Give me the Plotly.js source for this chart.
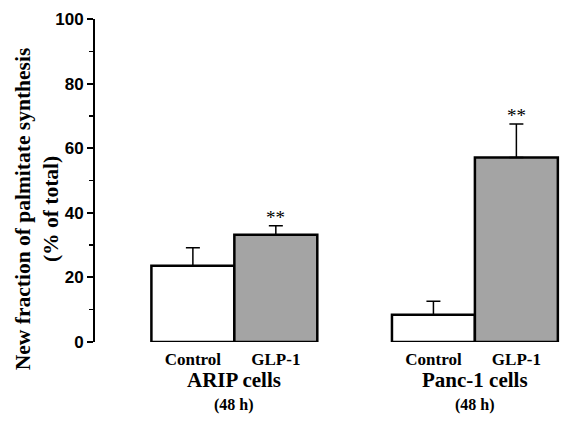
<!DOCTYPE html>
<html><head><meta charset="utf-8">
<script src="https://cdn.plot.ly/plotly-3.0.1.min.js"></script>
<style>body{margin:0;background:#fff}#c{width:562px;height:421px}</style>
</head><body><div id="c"></div>
<script>
const categories = ['Control', 'GLP-1', 'Control', 'GLP-1'];
const groups = ['ARIP cells', 'Panc-1 cells'];
const duration = '(48 h)';
const values = [23.6, 33.2, 8.4, 57.1];
const errPlus = [5.6, 2.8, 4.2, 10.4];
const significance = ['', '**', '', '**'];
const positions = [1, 2, 3.9, 4.9];
const colors = ['#ffffff', '#a4a4a4', '#ffffff', '#a4a4a4'];
const SERIF = '"Liberation Serif", "Times New Roman", Times, serif';

const trace = {
  type: 'bar', x: positions, y: values, width: 1,
  marker: {color: colors, line: {color: '#000', width: 2.5}},
  error_y: {type: 'data', array: errPlus, arrayminus: [0,0,0,0], symmetric: false,
            color: '#000', thickness: 1.5, width: 7},
  hoverinfo: 'none'
};

const ann = [];
positions.forEach((p, i) => {
  if (significance[i]) ann.push({x: p, y: values[i] + errPlus[i], xref: 'x', yref: 'y',
    text: significance[i], showarrow: false, yanchor: 'bottom', yshift: -4,
    font: {family: SERIF, size: 19, color: '#000'}});
});
[[1.5, 0], [4.4, 1]].forEach(([xc, gi]) => {
  ann.push({x: xc, y: -0.118, xref: 'x', yref: 'paper', xanchor: 'center', yanchor: 'middle',
    text: '<b>' + groups[gi] + '</b>',
    showarrow: false, font: {family: SERIF, size: 21, color: '#000'}});
  ann.push({x: xc, y: -0.195, xref: 'x', yref: 'paper', xanchor: 'center', yanchor: 'middle',
    text: '<b>' + duration + '</b>',
    showarrow: false, font: {family: SERIF, size: 16, color: '#000'}});
});
ann.push({x: -0.125, y: 0.41, xref: 'paper', yref: 'paper', textangle: -90,
  xanchor: 'center', yanchor: 'middle',
  text: '<b>New fraction of palmitate synthesis<br>(% of total)</b>', showarrow: false,
  font: {family: SERIF, size: 21.5, color: '#000'}});

const layout = {
  width: 562, height: 421,
  margin: {l: 95, r: 0, t: 19, b: 79},
  paper_bgcolor: '#fff', plot_bgcolor: '#fff',
  showlegend: false,
  xaxis: {range: [-0.18, 5.45], showline: false, showgrid: false, zeroline: false,
    tickvals: positions, ticktext: categories.map(c => '<b>' + c + '</b>'), ticks: '',
    ticklabelstandoff: 5,
    tickfont: {family: SERIF, size: 17, color: '#000'}},
  yaxis: {range: [0, 100], showline: true, linecolor: '#000', linewidth: 2,
    showgrid: false, zeroline: false, ticks: 'outside', ticklen: 6, tickwidth: 2, tickcolor: '#000',
    dtick: 20, tickfont: {family: '"Liberation Sans", Arial, sans-serif', size: 17, color: '#000', weight: 'bold'},
    minor: {dtick: 10, ticks: 'outside', ticklen: 4, tickwidth: 1.5, tickcolor: '#000'}},
  annotations: ann
};
Plotly.newPlot('c', [trace], layout, {staticPlot: true});
</script></body></html>
